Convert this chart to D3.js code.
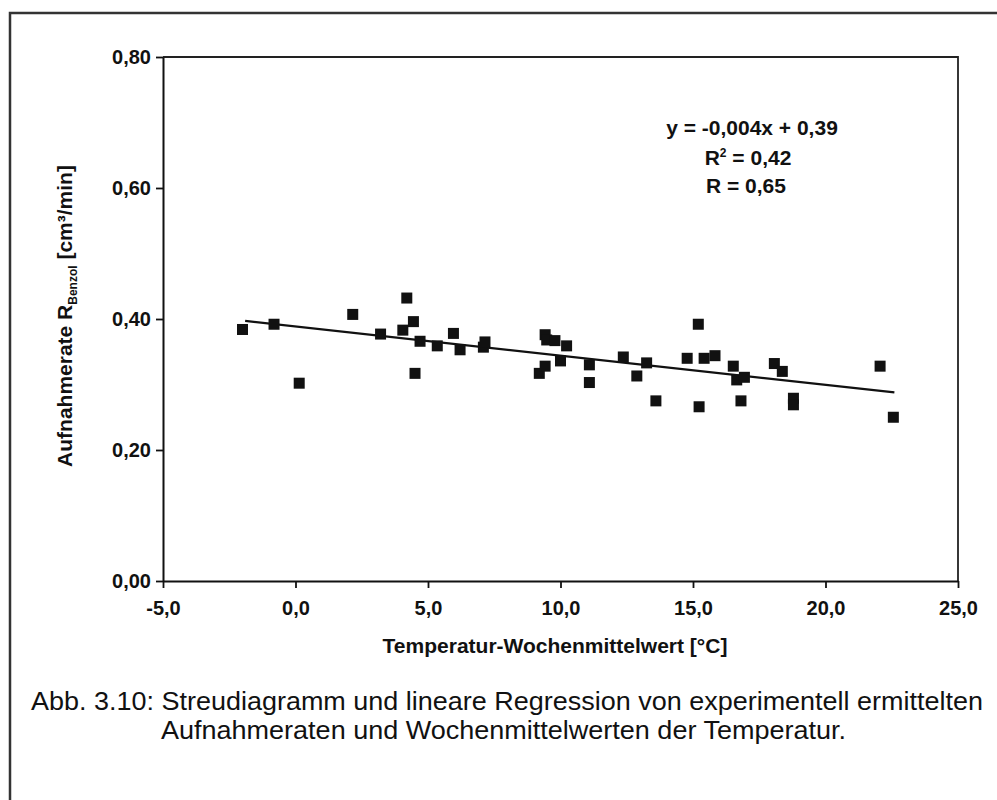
<!DOCTYPE html>
<html><head><meta charset="utf-8">
<script src="https://cdn.jsdelivr.net/npm/d3@7"></script>
<style>body{margin:0;background:#fff;} svg{display:block;}</style>
</head><body>
<svg id="c" width="997" height="800"></svg>
<script>
// Data
const temperature = [-2.0,-0.81,0.14,2.16,3.21,4.05,4.2,4.45,4.51,4.70,5.35,5.96,6.21,7.09,7.15,9.2,9.42,9.42,9.48,9.79,10.0,10.23,11.09,11.09,12.37,12.88,13.25,13.6,14.78,15.2,15.23,15.42,15.83,16.52,16.65,16.81,16.94,18.07,18.37,18.79,18.79,22.06,22.56];
const rate = [0.384,0.392,0.302,0.407,0.377,0.383,0.432,0.396,0.317,0.366,0.359,0.378,0.353,0.357,0.365,0.317,0.376,0.328,0.368,0.367,0.336,0.359,0.330,0.303,0.342,0.313,0.333,0.275,0.340,0.392,0.266,0.340,0.344,0.328,0.307,0.275,0.311,0.332,0.320,0.279,0.269,0.328,0.250];
const trendX = [-1.9, 22.6];
const trendY = [0.397, 0.288];
const xTicks = [-5,0,5,10,15,20,25];
const yTicks = [0,0.2,0.4,0.6,0.8];
const equationLines = ["y = -0,004x + 0,39", "R²", "R = 0,65"];

const svg = d3.select("#c");
const font = "'Liberation Sans', Arial, sans-serif";
const m = {l:163, t:57, r:958, b:581};
const x = d3.scaleLinear().domain([-5,25]).range([m.l, m.r]);
const y = d3.scaleLinear().domain([0,0.8]).range([m.b, m.t]);
const fmt1 = d => d3.format(".1f")(d).replace(".", ",").replace("−","-");
const fmt2 = d => d3.format(".2f")(d).replace(".", ",");

// outer frame
svg.append("path").attr("d","M10,800 L10,13 L997,13").attr("fill","none").attr("stroke","#333").attr("stroke-width",2.5);

// plot box top/right
svg.append("path").attr("d",`M${m.l},${m.t} L${m.r},${m.t} L${m.r},${m.b}`).attr("fill","none").attr("stroke","#222").attr("stroke-width",1.8);

const xAxis = svg.append("g").attr("transform",`translate(0,${m.b})`)
  .call(d3.axisBottom(x).tickValues(xTicks).tickFormat(fmt1).tickSize(7).tickSizeOuter(0));
const yAxis = svg.append("g").attr("transform",`translate(${m.l},0)`)
  .call(d3.axisLeft(y).tickValues(yTicks).tickFormat(fmt2).tickSize(7).tickSizeOuter(0));
[xAxis,yAxis].forEach(g=>{
  g.select(".domain").attr("stroke","#111").attr("stroke-width",2);
  g.selectAll(".tick line").attr("stroke","#111").attr("stroke-width",1.8);
  g.selectAll("text").attr("font-family",font).attr("font-weight","bold").attr("font-size",20).attr("fill","#111");
});
xAxis.selectAll("text").attr("dy","1.2em");
yAxis.selectAll("text").attr("dx","-0.1em");

// trend line
svg.append("line").attr("x1",x(trendX[0])).attr("y1",y(trendY[0])).attr("x2",x(trendX[1])).attr("y2",y(trendY[1]))
  .attr("stroke","#111").attr("stroke-width",2.2);

// points
const s = 11;
svg.append("g").selectAll("rect").data(temperature.map((t,i)=>[t,rate[i]])).join("rect")
  .attr("x",d=>x(d[0])-s/2).attr("y",d=>y(d[1])-s/2).attr("width",s).attr("height",s).attr("fill","#111");

// equation
const eq = svg.append("text").attr("font-family",font).attr("font-weight","bold").attr("font-size",21).attr("fill","#111").attr("text-anchor","middle");
eq.append("tspan").attr("x",752).attr("y",135).text(equationLines[0]);
const r2 = eq.append("tspan").attr("x",748).attr("y",165);
r2.text("R");
r2.append("tspan").attr("font-size",12).attr("dy",-8).text("2");
r2.append("tspan").attr("dy",8).text(" = 0,42");
eq.append("tspan").attr("x",746).attr("y",193).text(equationLines[2]);

// axis titles
svg.append("text").attr("x",555).attr("y",653).attr("text-anchor","middle").attr("font-family",font)
  .attr("font-weight","bold").attr("font-size",21).attr("fill","#111").text("Temperatur-Wochenmittelwert [°C]");
const yt = svg.append("text").attr("transform","translate(72,316) rotate(-90)").attr("text-anchor","middle")
  .attr("font-family",font).attr("font-weight","bold").attr("font-size",21).attr("fill","#111");
yt.append("tspan").text("Aufnahmerate R");
yt.append("tspan").attr("font-size",12).attr("dy",5).text("Benzol");
yt.append("tspan").attr("dy",-5).text(" [cm³/min]");

// caption
const cap = svg.append("g").attr("font-family",font).attr("font-size",26).attr("fill","#111");
cap.append("text").attr("x",31).attr("y",710).attr("textLength",952).attr("lengthAdjust","spacingAndGlyphs")
  .text("Abb. 3.10: Streudiagramm und lineare Regression von experimentell ermittelten");
cap.append("text").attr("x",161).attr("y",739).attr("textLength",685).attr("lengthAdjust","spacingAndGlyphs")
  .text("Aufnahmeraten und Wochenmittelwerten der Temperatur.");
</script>
</body></html>
